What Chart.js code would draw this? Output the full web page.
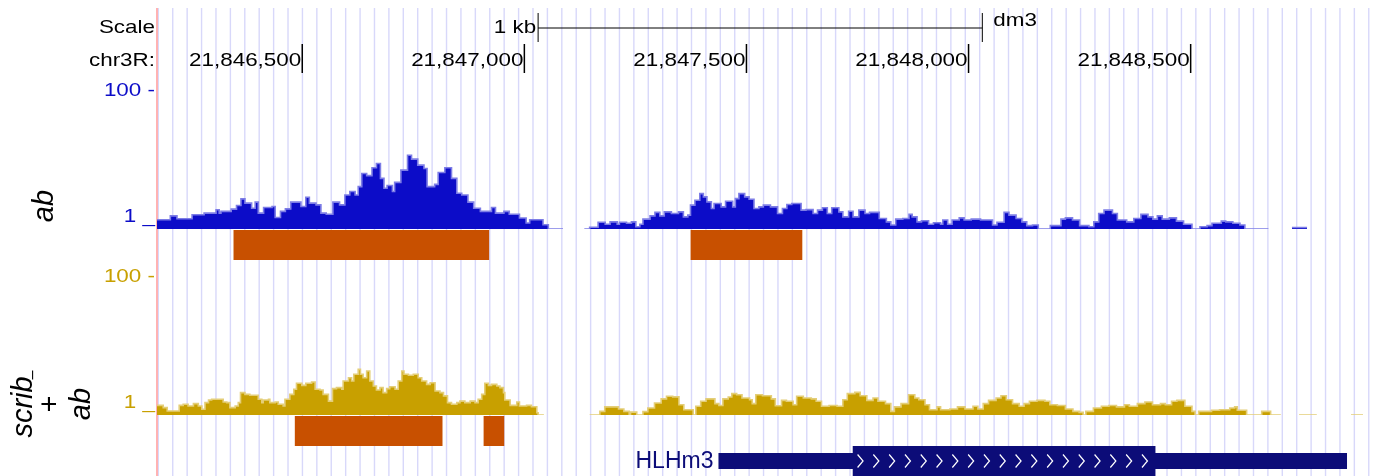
<!DOCTYPE html>
<html>
<head>
<meta charset="utf-8">
<title>ab / scrib- + ab signal, chr3R near HLHm3</title>
<script src="https://cdn.jsdelivr.net/npm/chart.js@4.4.1/dist/chart.umd.min.js"></script>
<style>
  html, body { margin: 0; padding: 0; background: #fff; }
  #wrap { position: relative; width: 1375px; height: 476px; overflow: hidden; }
  #wrap canvas { position: absolute; left: 0; }
</style>
</head>
<body>
<div id="wrap">
  <canvas id="bg" width="1375" height="476" style="top:0px"></canvas>
  <canvas id="abTrack" width="1375" height="154" style="top:80px"></canvas>
  <canvas id="abPeaks" width="1375" height="30" style="top:230px"></canvas>
  <canvas id="scribTrack" width="1375" height="182" style="top:264px"></canvas>
  <canvas id="scribPeaks" width="1375" height="30" style="top:416px"></canvas>
  <canvas id="gene" width="1375" height="30" style="top:446px"></canvas>
</div>
<script>
// all positions are bp offsets from BASE on chr3R
const CHROM = 'chr3R';
const ASSEMBLY = 'dm3';
const BASE = 21846000;
const VIEW = [173, 2915];
const rulerTicks = [500, 1000, 1500, 2000, 2500];
const scaleBar = [1031, 2031];
const GUIDE_START = 176, GUIDE_STEP = 32.44;

// ab signal (log scale 1..100), null = no data
const abPos = [172, 203, 218, 252, 279, 306, 313, 317, 340, 352, 362, 371, 386, 394, 401, 413, 432, 439, 451, 462,
  474, 497, 508, 516, 531, 542, 554, 569, 584, 596, 607, 619, 626, 634, 645, 657, 667, 676, 684, 691,
  703, 708, 722, 737, 746, 760, 774, 781, 798, 806, 821, 836, 848, 859, 873, 886, 901, 926, 935, 954,
  966, 989, 1004, 1012, 1042, 1054, 1087, 1095,
  1135, 1147, 1166, 1182, 1193, 1209, 1214, 1230, 1241, 1251, 1260, 1267, 1283, 1294, 1305, 1315, 1331, 1347, 1358, 1368,
  1374, 1384, 1395, 1403, 1411, 1421, 1427, 1443, 1453, 1469, 1475, 1483, 1496, 1506, 1517, 1528, 1538, 1554, 1570, 1581,
  1591, 1602, 1623, 1634, 1650, 1660, 1671, 1682, 1692, 1708, 1717, 1730, 1740, 1753, 1767, 1777, 1799, 1815, 1825, 1836,
  1852, 1866, 1873, 1884, 1894, 1910, 1921, 1937, 1942, 1953, 1963, 1979, 1990, 2006, 2027, 2054, 2064, 2080, 2091, 2107,
  2120, 2131, 2144, 2157, 2184, 2208, 2218, 2234, 2250, 2271, 2282, 2293, 2305, 2324, 2335, 2356, 2372, 2388, 2404, 2415,
  2425, 2436, 2452, 2468, 2484, 2503, 2521, 2537, 2548, 2569, 2579, 2595, 2611, 2622, 2675, 2680,
  2728, 2762, 2770];
const abVal = [1.36, 1.55, 1.41, 1.61, 1.70, 1.90, 1.70, 1.80, 1.94, 2.19, 2.73, 2.37, 2.00, 2.45, 1.70, 2.05, 2.12, 1.47, 1.80, 1.96,
  2.45, 2.12, 2.89, 2.37, 2.24, 1.70, 1.64, 2.45, 2.24, 3.11, 3.49, 3.11, 4.11, 6.38, 5.93, 7.71, 8.91, 5.41, 3.89, 4.26,
  3.49, 4.74, 7.14, 11.7, 10.3, 8.42, 7.54, 4.11, 4.44, 6.60, 7.71, 5.41, 3.30, 3.11, 2.45, 2.00, 1.80, 2.05, 1.70, 1.80,
  1.64, 1.44, 1.22, 1.36, 1.15, 1, 1, null,
  1, 1.06, 1.25, 1.17, 1.27, 1.17, 1.25, 1.21, 1.27, 1.08, 1.17, 1.39, 1.55, 1.74, 1.55, 1.77, 1.68, 1.77, 1.50, 1.59,
  2.22, 2.61, 3.26, 2.92, 2.47, 1.98, 2.34, 2.09, 2.53, 2.09, 2.76, 3.26, 2.92, 2.70, 1.98, 2.09, 2.22, 2.09, 1.68, 1.98,
  2.26, 2.34, 1.88, 1.91, 1.68, 1.88, 2.03, 1.68, 2.03, 1.77, 1.50, 1.81, 1.50, 1.88, 1.68, 1.74, 1.42, 1.27, 1.14, 1.39,
  1.42, 1.63, 1.50, 1.27, 1.32, 1.17, 1.23, 1.17, 1.35, 1.17, 1.35, 1.45, 1.35, 1.39, 1.35, 1.14, 1.25, 1.74, 1.59, 1.42,
  1.27, 1.12, 1.14, 1, 1.12, 1.39, 1.45, 1.35, 1.12, 1.08, 1.27, 1.68, 1.88, 1.68, 1.35, 1.27, 1.42, 1.63, 1.50, 1.39,
  1.55, 1.39, 1.45, 1.30, 1.17, 1, 1.08, 1.12, 1.21, 1.30, 1.27, 1.21, 1.14, 1, 1, null,
  1.05, 1.05, null];

// scrib- + ab signal
const scribPos = [172, 187, 196, 223, 232, 243, 255, 266, 274, 281, 289, 296, 322, 330, 337, 349, 356, 361, 371, 382,
  401, 409, 412, 424, 427, 439, 446, 457, 461, 472, 481, 487, 499, 508, 521, 529, 540, 547, 559, 568,
  577, 589, 592, 604, 611, 616, 626, 631, 637, 645, 652, 660, 667, 675, 682, 690, 697, 709, 716, 724,
  729, 739, 750, 761, 769, 780, 788, 799, 810, 818, 827, 836, 848, 855, 866, 878, 889, 896, 904, 911,
  919, 926, 938, 945, 953, 956, 968, 983, 989, 1005, 1016, 1028, 1031, 1044, 1050,
  1147, 1170, 1181, 1212, 1224, 1236, 1239, 1253, 1267, 1278, 1293, 1308, 1320, 1334, 1348, 1359, 1380, 1386, 1397, 1409,
  1429, 1438, 1447, 1459, 1467, 1478, 1490, 1507, 1513, 1521, 1536, 1556, 1565, 1579, 1590, 1605, 1613, 1628, 1646, 1657,
  1669, 1686, 1704, 1717, 1727, 1744, 1756, 1771, 1785, 1796, 1813, 1825, 1833, 1848, 1865, 1879, 1888, 1902, 1912, 1929,
  1937, 1958, 1975, 1992, 2010, 2021, 2033, 2045, 2062, 2073, 2085, 2099, 2114, 2125, 2137, 2154, 2172, 2183, 2200, 2218,
  2235, 2249, 2258, 2264, 2281, 2299, 2316, 2333, 2351, 2362, 2380, 2397, 2414, 2432, 2443, 2457, 2469, 2487, 2503, 2510,
  2518, 2547, 2565, 2588, 2599, 2605, 2626, 2660, 2680, 2703, 2710,
  2744, 2784, 2790, 2861, 2888, 2895];
const scribVal = [1.38, 1.28, 1.14, 1.38, 1.43, 1.35, 1.46, 1.35, 1.21, 1.51, 1.65, 1.69, 1.54, 1.51, 1.28, 1.35, 1.51, 2.11, 1.99, 1.93,
  1.69, 1.51, 1.65, 1.69, 1.51, 1.54, 1.43, 1.35, 1.69, 1.99, 2.36, 2.88, 2.69, 2.88, 3.01, 2.36, 2.30, 1.99, 1.59, 2.41,
  2.49, 2.36, 3.11, 3.47, 3.11, 3.89, 4.59, 3.89, 3.47, 4.34, 3.11, 2.63, 2.30, 2.49, 2.11, 2.41, 2.57, 2.36, 3.11, 4.34,
  3.89, 3.76, 3.89, 3.47, 3.11, 2.78, 2.94, 2.23, 2.11, 1.89, 1.51, 1.43, 1.51, 1.59, 1.51, 1.59, 1.51, 1.69, 1.99, 2.88,
  2.69, 2.78, 2.63, 2.49, 2.11, 1.65, 1.38, 1.54, 1.35, 1.38, 1.32, 1.08, 1, 1, null,
  1, 1.13, 1.31, 1.22, 1.13, 1, 1.10, 1, 1.12, 1.26, 1.49, 1.71, 1.87, 1.83, 1.41, 1.19, 1, 1.34, 1.58, 1.71,
  1.46, 1.37, 1.71, 1.82, 2.04, 1.97, 1.76, 1.66, 1.46, 1.97, 1.90, 1.71, 1.36, 1.63, 1.58, 1.41, 1.87, 1.76, 1.71, 1.58,
  1.34, 1.37, 1.34, 1.66, 2.04, 2.13, 1.90, 1.63, 1.76, 1.58, 1.46, 1.13, 1.31, 1.46, 1.97, 1.76, 1.66, 1.41, 1.19, 1.31,
  1.19, 1.22, 1.31, 1.22, 1.34, 1.22, 1.46, 1.63, 1.76, 1.90, 1.66, 1.46, 1.34, 1.46, 1.58, 1.63, 1.58, 1.41, 1.37, 1.22,
  1.13, 1.09, 1, 1.13, 1.26, 1.34, 1.37, 1.31, 1.41, 1.34, 1.46, 1.54, 1.41, 1.46, 1.41, 1.58, 1.63, 1.34, 1.13, 1,
  1.13, 1.17, 1.19, 1.26, 1.31, 1.17, 1, 1.13, 1, 1, null,
  1, 1, null, 1, 1, null];

// called peaks
const abPeakStart = [346, 1375];
const abPeakEnd = [920, 1625];
const scribPeakStart = [484, 909];
const scribPeakEnd = [815, 954];

// gene model
const geneName = 'HLHm3';
const geneTx = [1437, 2852];
const geneCds = [1740, 2420];

const FONT = '"Liberation Sans", Arial, Helvetica, sans-serif';
const STRETCH = 1.18;
const AB_BLUE = 'rgb(12,12,200)', AB_LIGHT = 'rgb(125,125,230)';
const GOLD = 'rgb(200,160,0)', GOLD_LIGHT = 'rgb(228,206,120)';
const PEAK = 'rgb(200,80,0)';
const NAVY = 'rgb(12,12,120)';

function stretchText(ctx, text, x, y, align, baseline, color) {
  ctx.save();
  ctx.translate(x, y);
  ctx.scale(STRETCH, 1);
  ctx.font = '19px ' + FONT;
  ctx.fillStyle = color;
  ctx.textAlign = align;
  ctx.textBaseline = baseline;
  ctx.fillText(text, 0, 0);
  ctx.restore();
}

function baseOptions(padTop, padBottom, extra) {
  return Object.assign({
    responsive: false,
    animation: false,
    events: [],
    layout: { padding: { left: 157, right: 0, top: padTop, bottom: padBottom } },
    plugins: { legend: { display: false }, tooltip: { enabled: false } }
  }, extra);
}

// ruler, guidelines and the pink left edge
const rulerPlugin = {
  id: 'ruler',
  afterDraw(chart) {
    const ctx = chart.ctx;
    const x = chart.scales.x;
    ctx.save();
    ctx.strokeStyle = 'rgb(216,216,250)';
    ctx.lineWidth = 1.4;
    for (let v = GUIDE_START; v <= VIEW[1]; v += GUIDE_STEP) {
      const px = x.getPixelForValue(v);
      ctx.beginPath();
      ctx.moveTo(px, 8);
      ctx.lineTo(px, 476);
      ctx.stroke();
    }
    ctx.strokeStyle = 'rgb(255,178,178)';
    ctx.lineWidth = 2;
    ctx.beginPath();
    ctx.moveTo(chart.chartArea.left, 8);
    ctx.lineTo(chart.chartArea.left, 476);
    ctx.stroke();

    // scale bar
    const s0 = x.getPixelForValue(scaleBar[0]);
    const s1 = x.getPixelForValue(scaleBar[1]);
    ctx.strokeStyle = '#000';
    ctx.lineWidth = 1;
    ctx.beginPath();
    ctx.moveTo(s0, 28); ctx.lineTo(s1, 28);
    ctx.moveTo(s0, 13); ctx.lineTo(s0, 42);
    ctx.moveTo(s1, 13); ctx.lineTo(s1, 42);
    ctx.stroke();
    stretchText(ctx, 'Scale', 155, 28, 'right', 'middle', '#000');
    stretchText(ctx, (scaleBar[1] - scaleBar[0]) / 1000 + ' kb', s0 - 2, 28, 'right', 'middle', '#000');
    stretchText(ctx, ASSEMBLY, s1 + 11, 21, 'left', 'middle', '#000');

    // base position ticks
    stretchText(ctx, CHROM + ':', 155, 61, 'right', 'middle', '#000');
    ctx.lineWidth = 1.5;
    rulerTicks.forEach(v => {
      const px = x.getPixelForValue(v);
      ctx.beginPath();
      ctx.moveTo(px, 44); ctx.lineTo(px, 73);
      ctx.stroke();
      stretchText(ctx, (BASE + v).toLocaleString('en-US'), px - 1, 61, 'right', 'middle', '#000');
    });
    ctx.restore();
  }
};

new Chart(document.getElementById('bg'), {
  type: 'line',
  data: { datasets: [] },
  options: baseOptions(0, 0, {
    scales: {
      x: { type: 'linear', min: VIEW[0], max: VIEW[1], display: false },
      y: { display: false }
    }
  }),
  plugins: [rulerPlugin]
});

// y range labels and the rotated track name
function trackLabels(color, names) {
  return {
    id: 'trackLabels',
    afterDraw(chart) {
      const ctx = chart.ctx;
      const area = chart.chartArea;
      stretchText(ctx, '100 -', 155, area.top, 'right', 'middle', color);
      stretchText(ctx, '1 _', 155, area.bottom - 7, 'right', 'alphabetic', color);
      names.forEach(n => {
        ctx.save();
        ctx.translate(n.x, n.y);
        ctx.rotate(-Math.PI / 2);
        ctx.font = (n.italic ? 'italic ' : '') + '29px ' + FONT;
        ctx.fillStyle = '#000';
        ctx.textAlign = 'center';
        ctx.textBaseline = 'middle';
        ctx.fillText(n.text, 0, 0);
        if (n.sup) {
          const w = ctx.measureText(n.text).width;
          ctx.font = '16px ' + FONT;
          ctx.textAlign = 'left';
          ctx.textBaseline = 'alphabetic';
          ctx.fillText(n.sup, w / 2 - 3, 12.5);
        }
        ctx.restore();
      });
    }
  };
}

function signalChart(id, pos, val, dark, light, padTop, padBottom, labels) {
  return new Chart(document.getElementById(id), {
    type: 'line',
    data: {
      datasets: [{
        data: pos.map((p, i) => ({ x: p, y: val[i] })),
        stepped: true,
        fill: 'start',
        backgroundColor: dark,
        borderColor: light,
        borderWidth: 1.6,
        pointRadius: 0,
        spanGaps: false
      }]
    },
    options: baseOptions(padTop, padBottom, {
      scales: {
        x: { type: 'linear', min: VIEW[0], max: VIEW[1], display: false },
        y: { type: 'logarithmic', min: 1, max: 100, display: false }
      }
    }),
    plugins: [labels]
  });
}

function peakChart(id, starts, ends) {
  return new Chart(document.getElementById(id), {
    type: 'bar',
    data: {
      labels: ['peaks'],
      datasets: [{
        data: starts.map((s, i) => ({ x: [s, ends[i]], y: 'peaks' })),
        backgroundColor: PEAK,
        borderWidth: 0,
        borderSkipped: false,
        barPercentage: 1,
        categoryPercentage: 1
      }]
    },
    options: baseOptions(0, 0, {
      indexAxis: 'y',
      scales: {
        x: { type: 'linear', min: VIEW[0], max: VIEW[1], display: false },
        y: { type: 'category', display: false }
      }
    })
  });
}

signalChart('abTrack', abPos, abVal, AB_BLUE, AB_LIGHT, 11, 5,
  trackLabels(AB_BLUE, [{ text: 'ab', x: 45, y: 126, italic: true }]));
peakChart('abPeaks', abPeakStart, abPeakEnd);
signalChart('scribTrack', scribPos, scribVal, GOLD, GOLD_LIGHT, 13, 31,
  trackLabels(GOLD, [
    { text: 'scrib', sup: '\u2013', x: 24, y: 143, italic: true },
    { text: '+', x: 51, y: 140, italic: false },
    { text: 'ab', x: 82, y: 140, italic: true }
  ]));
peakChart('scribPeaks', scribPeakStart, scribPeakEnd);

// gene: thin UTR bar, thick CDS bar with strand chevrons
const genePlugin = {
  id: 'geneDecor',
  afterDatasetsDraw(chart) {
    const ctx = chart.ctx;
    const thin = chart.getDatasetMeta(0).data[0].getProps(['x', 'base', 'y']);
    const thick = chart.getDatasetMeta(1).data[0].getProps(['x', 'base', 'y']);
    const l = Math.min(thick.x, thick.base), r = Math.max(thick.x, thick.base);
    ctx.save();
    ctx.strokeStyle = '#fff';
    ctx.lineWidth = 1.2;
    for (let cx = l + 7; cx < r - 6; cx += 15.8) {
      ctx.beginPath();
      ctx.moveTo(cx - 2.5, thick.y - 6.5);
      ctx.lineTo(cx + 3, thick.y);
      ctx.lineTo(cx - 2.5, thick.y + 6.5);
      ctx.stroke();
    }
    ctx.font = '23px ' + FONT;
    ctx.fillStyle = NAVY;
    ctx.textAlign = 'right';
    ctx.textBaseline = 'middle';
    ctx.fillText(geneName, Math.min(thin.x, thin.base) - 5, thin.y + 1);
    ctx.restore();
  }
};

new Chart(document.getElementById('gene'), {
  type: 'bar',
  data: {
    labels: [geneName],
    datasets: [{
      data: [{ x: geneTx, y: geneName }],
      backgroundColor: NAVY,
      borderWidth: 0,
      borderSkipped: false,
      barPercentage: 0.54,
      categoryPercentage: 1,
      grouped: false
    }, {
      data: [{ x: geneCds, y: geneName }],
      backgroundColor: NAVY,
      borderWidth: 0,
      borderSkipped: false,
      barPercentage: 1,
      categoryPercentage: 1,
      grouped: false
    }]
  },
  options: baseOptions(0, 0, {
    indexAxis: 'y',
    scales: {
      x: { type: 'linear', min: VIEW[0], max: VIEW[1], display: false },
      y: { type: 'category', display: false }
    }
  }),
  plugins: [genePlugin]
});
</script>
</body>
</html>
